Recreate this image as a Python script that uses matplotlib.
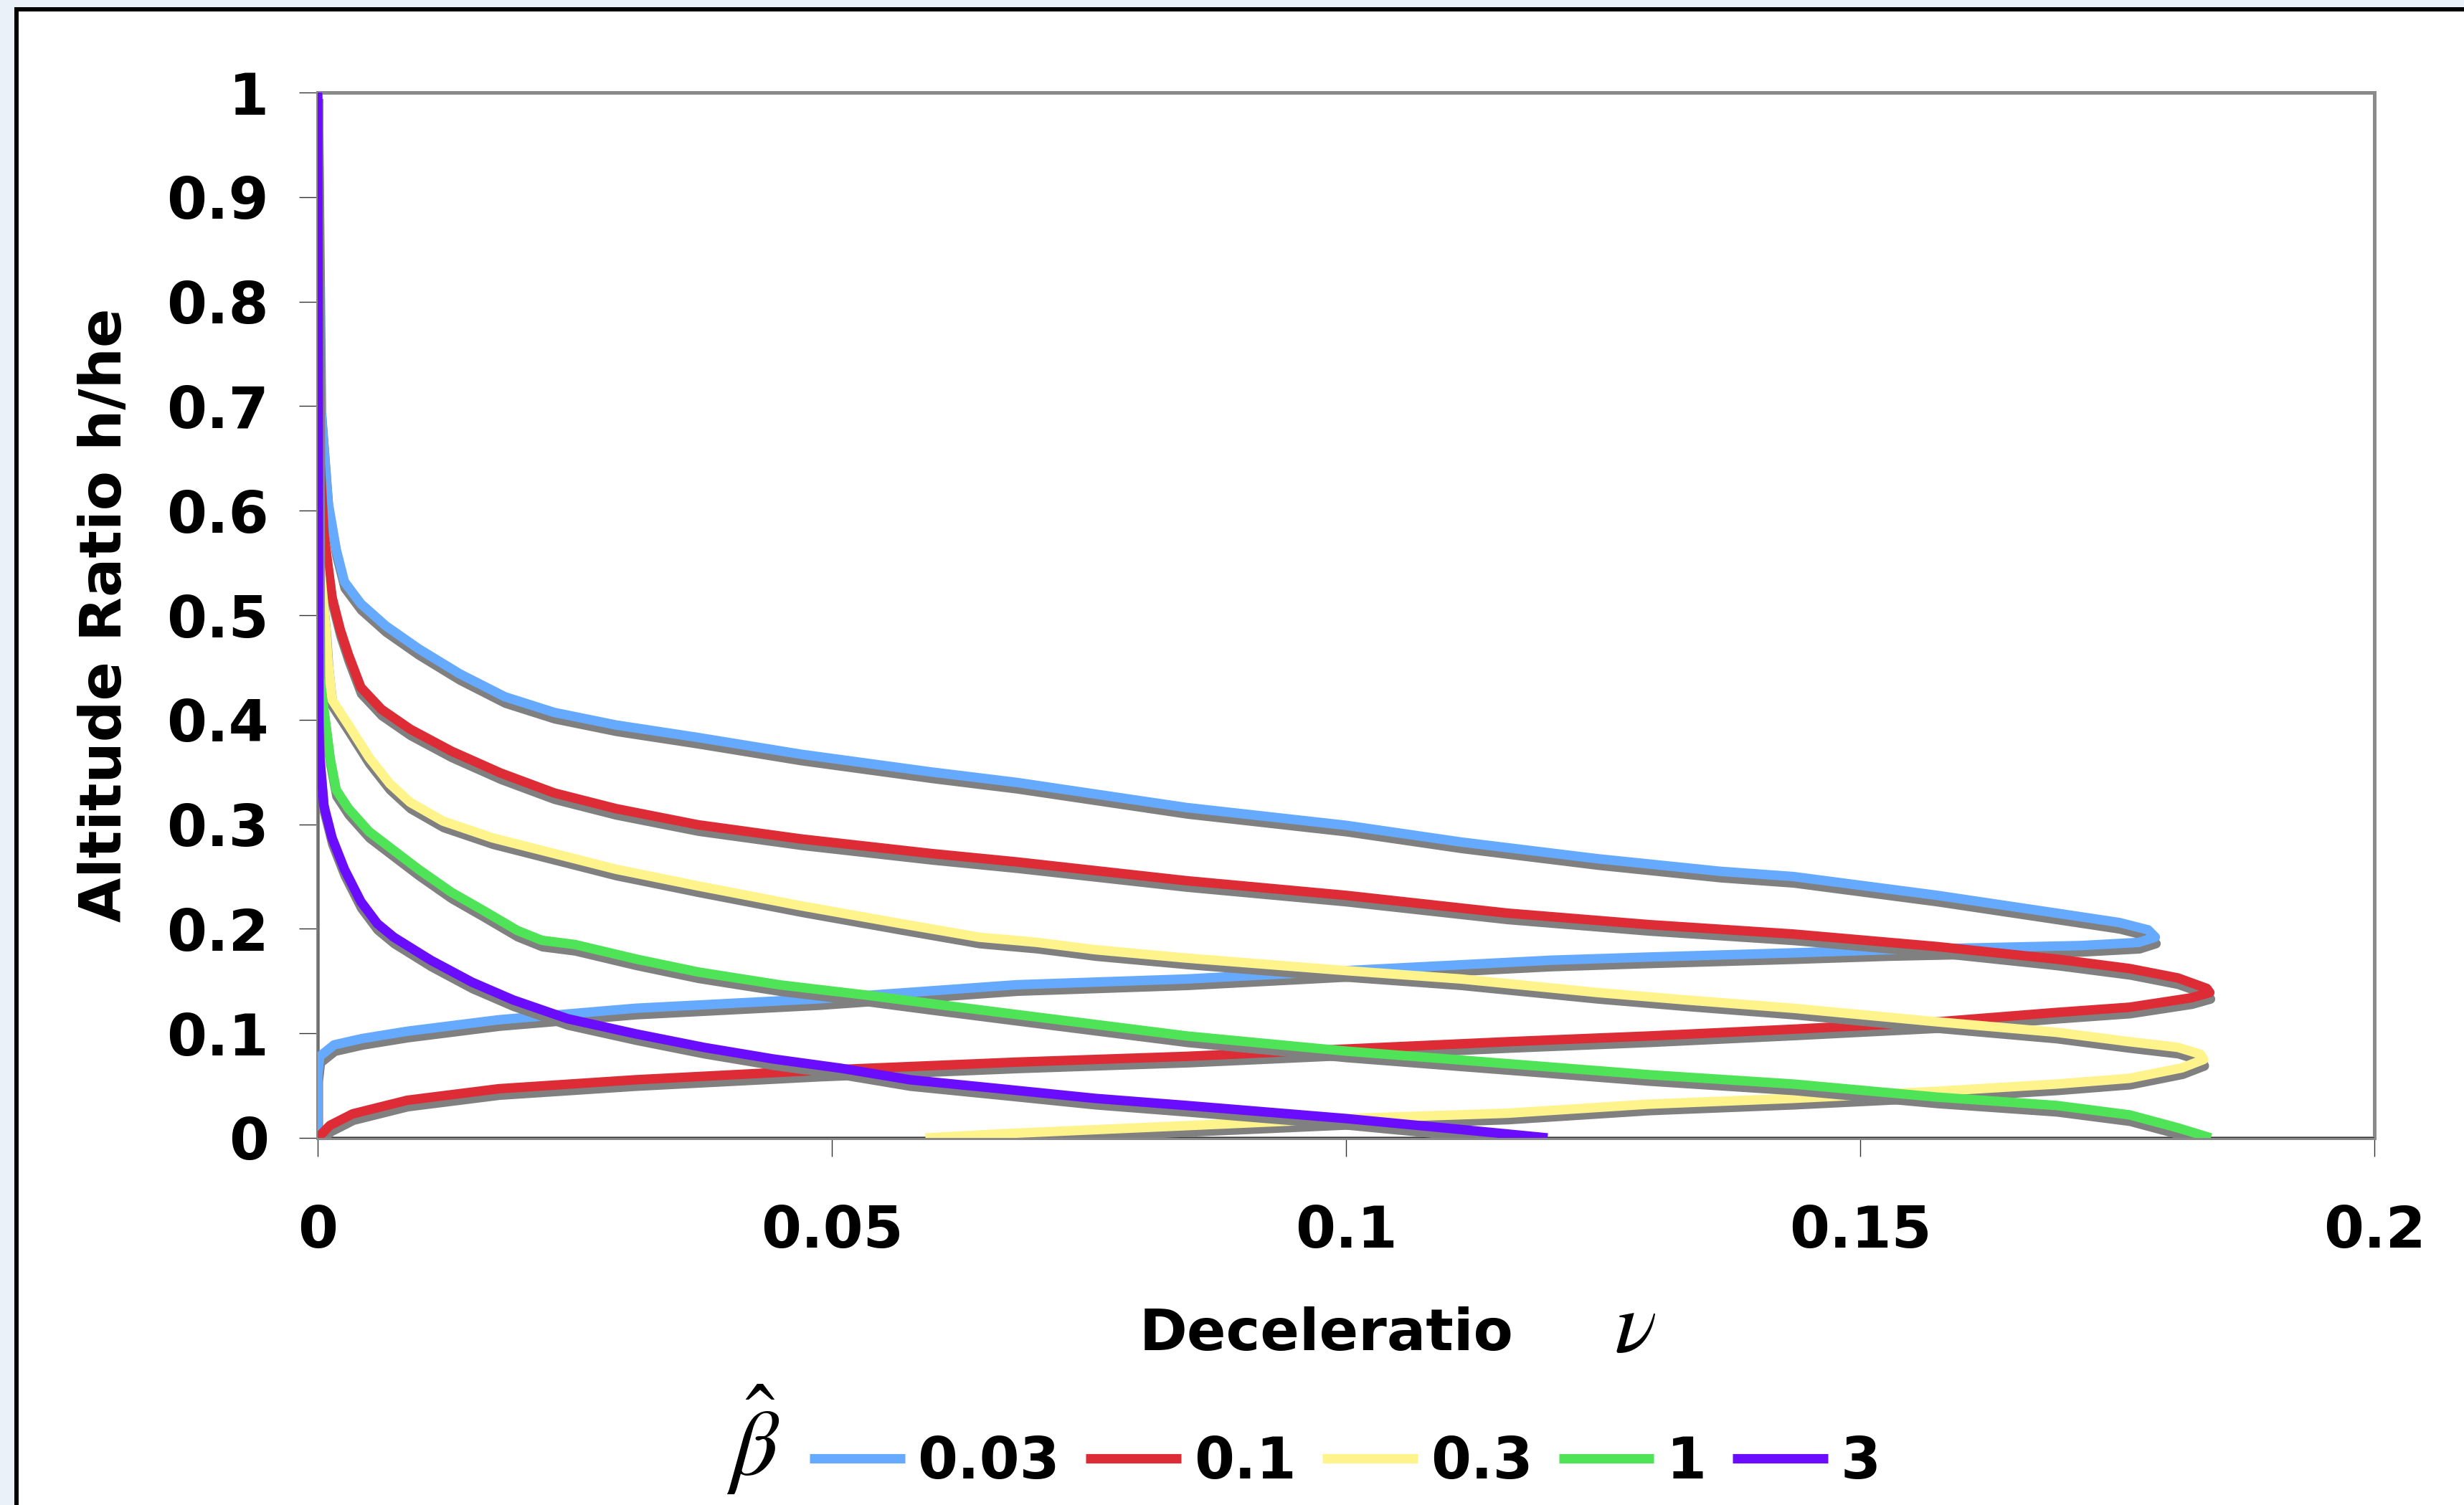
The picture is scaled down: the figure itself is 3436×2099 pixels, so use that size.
import matplotlib
matplotlib.use("Agg")
import matplotlib.pyplot as plt
from matplotlib import patheffects as pe
from matplotlib.lines import Line2D
from matplotlib.patches import Rectangle

# ---- data: deceleration nu vs altitude ratio h/he for each ballistic parameter ----
beta_labels = ["0.03", "0.1", "0.3", "1", "3"]
series_colors = ["#66AAFF", "#DD2C35", "#FFF48C", "#4FE457", "#6A0DFF"]

nu_003 = [0.0, 0.0003, 0.0010, 0.0018, 0.0026, 0.0042, 0.0066, 0.0098, 0.0138, 0.0182,
          0.0230, 0.0290, 0.0370, 0.0470, 0.0597, 0.0680, 0.0845, 0.1000, 0.1112, 0.1245,
          0.1364, 0.1435, 0.1575, 0.1691, 0.1752, 0.1780, 0.1787, 0.1771, 0.1715, 0.1622,
          0.1528, 0.1435, 0.1295, 0.1200, 0.1100, 0.1000, 0.0845, 0.0680, 0.0487, 0.0309,
          0.0176, 0.0087, 0.0043, 0.0016, 0.0002, 0.0, 0.0]
h_003 = [1.0, 0.700, 0.609, 0.563, 0.532, 0.511, 0.490, 0.468, 0.444, 0.422,
         0.407, 0.395, 0.383, 0.367, 0.350, 0.340, 0.316, 0.299, 0.283, 0.267,
         0.255, 0.250, 0.232, 0.215, 0.206, 0.199, 0.192, 0.187, 0.184, 0.182,
         0.180, 0.177, 0.173, 0.170, 0.165, 0.160, 0.152, 0.1465, 0.133, 0.124,
         0.113, 0.102, 0.095, 0.089, 0.078, 0.060, 0.0]

nu_01 = [0.0, 0.0002, 0.0006, 0.0014, 0.0022, 0.0030, 0.0042, 0.0062, 0.0090, 0.0130,
         0.0178, 0.0230, 0.0290, 0.0370, 0.0470, 0.0597, 0.0680, 0.0845, 0.1000, 0.1157,
         0.1295, 0.1435, 0.1575, 0.1691, 0.1762, 0.1809, 0.1837, 0.1840, 0.1822, 0.1762,
         0.1691, 0.1575, 0.1435, 0.1295, 0.1157, 0.1000, 0.0845, 0.0680, 0.0487, 0.0309,
         0.0176, 0.0087, 0.0034, 0.0012, 0.0003, 0.0]
h_01 = [1.0, 0.650, 0.578, 0.517, 0.486, 0.462, 0.431, 0.410, 0.391, 0.370,
        0.349, 0.330, 0.315, 0.2995, 0.286, 0.272, 0.264, 0.246, 0.232, 0.215,
        0.204, 0.195, 0.183, 0.171, 0.162, 0.153, 0.143, 0.139, 0.134, 0.125,
        0.120, 0.111, 0.104, 0.0975, 0.092, 0.085, 0.078, 0.0725, 0.0646, 0.0556,
        0.047, 0.036, 0.023, 0.012, 0.003, 0.0]

nu_03 = [0.0, 0.0002, 0.0008, 0.0010, 0.0014, 0.0030, 0.0050, 0.0070, 0.0090, 0.0122,
         0.0170, 0.0230, 0.0290, 0.0370, 0.0470, 0.0567, 0.0643, 0.0700, 0.0756, 0.0845,
         0.1000, 0.1112, 0.1245, 0.1330, 0.1435, 0.1575, 0.1691, 0.1762, 0.1809, 0.1831,
         0.1834, 0.1813, 0.1762, 0.1691, 0.1575, 0.1435, 0.1295, 0.1157, 0.1000, 0.0845,
         0.0667, 0.0591]
h_03 = [1.0, 0.550, 0.486, 0.456, 0.419, 0.395, 0.364, 0.339, 0.321, 0.303,
        0.287, 0.272, 0.257, 0.241, 0.222, 0.205, 0.192, 0.187, 0.180, 0.172,
        0.160, 0.152, 0.139, 0.132, 0.124, 0.111, 0.101, 0.092, 0.0866, 0.080,
        0.075, 0.067, 0.057, 0.0515, 0.0446, 0.0378, 0.0323, 0.0236, 0.0185, 0.0117,
        0.004, 0.0]

nu_1 = [0.0, 0.0002, 0.0008, 0.0012, 0.0018, 0.0030, 0.0050, 0.0074, 0.0098, 0.0130,
        0.0162, 0.0194, 0.0218, 0.0250, 0.0310, 0.0370, 0.0450, 0.0530, 0.0600, 0.0680,
        0.0845, 0.1000, 0.1157, 0.1295, 0.1435, 0.1575, 0.1691, 0.1762, 0.1809, 0.1841]
h_1 = [1.0, 0.440, 0.395, 0.364, 0.333, 0.315, 0.293, 0.275, 0.257, 0.235,
       0.217, 0.1985, 0.189, 0.185, 0.171, 0.1587, 0.1463, 0.137, 0.128, 0.118,
       0.0975, 0.083, 0.071, 0.0604, 0.0515, 0.039, 0.031, 0.022, 0.0096, 0.0]

nu_3 = [0.0, 0.0001, 0.0002, 0.0006, 0.0014, 0.0026, 0.0042, 0.0058, 0.0074, 0.0110,
        0.0150, 0.0190, 0.0243, 0.0309, 0.0376, 0.0443, 0.0509, 0.0576, 0.0667, 0.0756,
        0.0845, 0.1000, 0.1112, 0.1196]
h_3 = [1.0, 0.400, 0.364, 0.318, 0.287, 0.257, 0.226, 0.205, 0.192, 0.170,
       0.149, 0.132, 0.114, 0.0996, 0.0865, 0.0755, 0.0666, 0.0556, 0.0467, 0.0378,
       0.031, 0.0185, 0.008, 0.0]

x_ticks = [0, 0.05, 0.1, 0.15, 0.2]
x_tick_labels = ["0", "0.05", "0.1", "0.15", "0.2"]
y_ticks = [0, 0.1, 0.2, 0.3, 0.4, 0.5, 0.6, 0.7, 0.8, 0.9, 1.0]
y_tick_labels = ["0", "0.1", "0.2", "0.3", "0.4", "0.5", "0.6", "0.7", "0.8", "0.9", "1"]

# ---- figure layout (pixel based) ----
W, H, DPI = 3437, 2099, 100
FS = 58
LW = 9.5

def fx(px):
    return px / W

def fy(py):
    return 1 - py / H

fig = plt.figure(figsize=(W / DPI, H / DPI), dpi=DPI, facecolor="#EAF1F9")

# white chart frame with a black border running off the right and bottom edges
frame = Rectangle((fx(23), -0.05), 1.2, fy(13) + 0.05, transform=fig.transFigure,
                  facecolor="white", edgecolor="black", linewidth=4.3, zorder=-1)
fig.add_artist(frame)

left, right, top, bottom = 443, 3311, 129, 1587
ax = fig.add_axes([fx(left), fy(bottom), (right - left) / W, (bottom - top) / H])
ax.set_facecolor("white")
ax.set_xlim(0, 0.2)
ax.set_ylim(0, 1)

for s in ax.spines.values():
    s.set_color("#8A8A8A")
    s.set_linewidth(3.6)
ax.axhline(0, color="#222222", lw=1.2, zorder=2.6)
ax.axvline(0, color="#555555", lw=1.0, zorder=2.6)

ax.set_xticks(x_ticks, x_tick_labels)
ax.set_yticks(y_ticks, y_tick_labels)
ax.tick_params(axis="both", direction="out", length=19, width=1.0, color="#333333",
               labelsize=FS, top=False, right=False)
ax.tick_params(axis="x", pad=47)
ax.tick_params(axis="y", pad=30)
for lbl in ax.get_xticklabels() + ax.get_yticklabels():
    lbl.set_fontweight("bold")

shadow = [pe.SimpleLineShadow(offset=(0.7, -6.5), shadow_color="#808080", alpha=1.0),
          pe.Normal()]
series = [(nu_003, h_003), (nu_01, h_01), (nu_03, h_03), (nu_1, h_1), (nu_3, h_3)]
for (nu, hh), c in zip(series, series_colors):
    ax.plot(nu, hh, color=c, lw=LW, solid_joinstyle="round", solid_capstyle="butt",
            zorder=3, path_effects=shadow)

# axis titles
fig.text(fx(147), fy(858), "Altitude Ratio h/he", rotation=90, ha="center", va="center",
         fontsize=FS, fontweight="bold")
fig.text(fx(1850), fy(1883), "Deceleratio", ha="center", va="baseline",
         fontsize=FS, fontweight="bold")
fig.text(fx(2280), fy(1885), r"$\nu$", ha="center", va="baseline", fontsize=88,
         math_fontfamily="stix")

# legend
fig.text(fx(1050), fy(2008), r"$\hat{\beta}$", ha="center", va="center", fontsize=94,
         math_fontfamily="stix")
handles = [Line2D([], [], color=c, lw=LW, solid_capstyle="butt") for c in series_colors]
fig.legend(handles, beta_labels, loc="center", bbox_to_anchor=(fx(1876), fy(2040)),
           ncol=5, frameon=False, prop={"weight": "bold", "size": FS},
           handlelength=1.65, handletextpad=0.22, columnspacing=0.45,
           borderpad=0, borderaxespad=0)

fig.savefig("out.png", dpi=DPI, facecolor=fig.get_facecolor())
